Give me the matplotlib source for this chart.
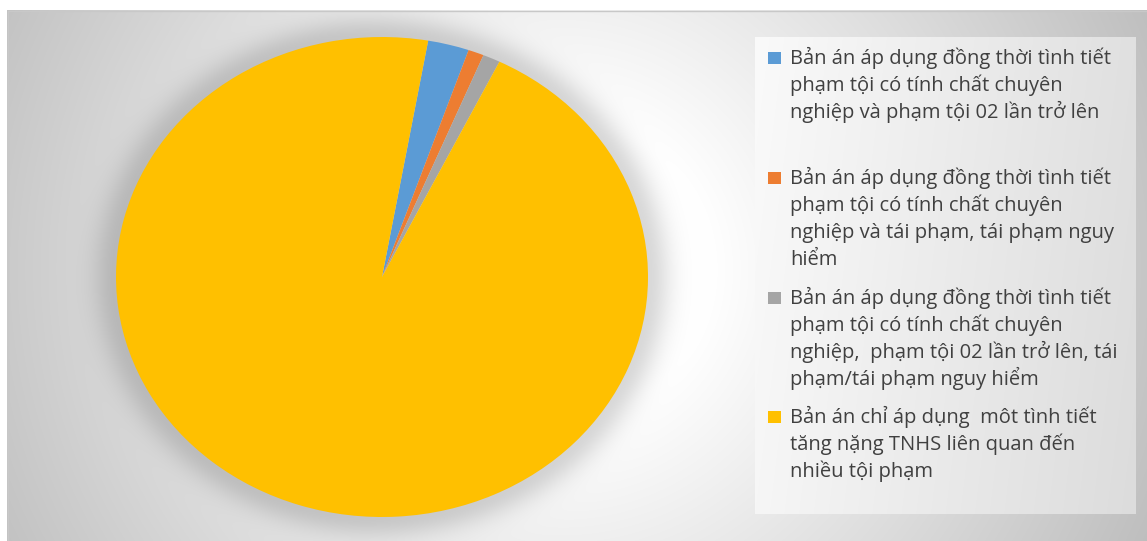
import numpy as np
import matplotlib
matplotlib.use("Agg")
import matplotlib.pyplot as plt
from matplotlib.patches import Rectangle

labels = [
    "Bản án áp dụng đồng thời tình tiết\nphạm tội có tính chất chuyên\nnghiệp và phạm tội 02 lần trở lên",
    "Bản án áp dụng đồng thời tình tiết\nphạm tội có tính chất chuyên\nnghiệp và tái phạm, tái phạm nguy\nhiểm",
    "Bản án áp dụng đồng thời tình tiết\nphạm tội có tính chất chuyên\nnghiệp,  phạm tội 02 lần trở lên, tái\nphạm/tái phạm nguy hiểm",
    "Bản án chỉ áp dụng  môt tình tiết\ntăng nặng TNHS liên quan đến\nnhiều tội phạm",
]
values = [2.5, 0.95, 1.05, 95.5]
colors = ["#5B9BD5", "#ED7D31", "#A5A5A5", "#FFC000"]

plt.rcParams["font.family"] = ["Open Sans", "DejaVu Sans"]

W, H = 1147, 541
fig = plt.figure(figsize=(W / 100, H / 100), dpi=100)
fig.patch.set_facecolor("white")

# background axes in pixel units
bg = fig.add_axes([0, 0, 1, 1])
bg.set_xlim(0, W)
bg.set_ylim(H, 0)
bg.axis("off")

# chart area: radial grey gradient, pie shadow, legend box
yy, xx = np.mgrid[10:H, 7:W] + 0.5
r = np.hypot(xx - 560, yy - 270)
val = np.clip(255 - np.clip(r - 150, 0, None) * 0.13, 190, 255)

cx, cy, rx, ry = 382, 277, 266, 240
d = np.hypot((xx - cx) / rx, (yy - cy) / ry)
dist = np.clip((d - 1) * 253, 0, None)
val = val * (1 - 0.15 * np.exp(-(dist / 22) ** 2))

lx0, lx1, ly0, ly1 = 755, 1136, 37, 514
inside = (xx >= lx0) & (xx < lx1) & (yy >= ly0) & (yy < ly1)
lval = 250 - 26 * (xx - lx0) / (lx1 - lx0) - 4 * (yy - ly0) / (ly1 - ly0)
val = np.where(inside, lval, val)

img = np.dstack([val] * 3) / 255.0
bg.imshow(img, extent=[7, W, H, 10], interpolation="bilinear", aspect="auto")
bg.plot([7.5, 7.5, W], [H, 10.5, 10.5], color="#c8c8c8", lw=1)

# pie (elliptical, as in the source)
ax = fig.add_axes([(cx - rx) / W, 1 - (cy + ry) / H, 2 * rx / W, 2 * ry / H])
ax.pie(values, colors=colors, startangle=80, counterclock=False,
       radius=1, wedgeprops=dict(linewidth=0))
ax.set_aspect("auto")
ax.set_xlim(-1, 1)
ax.set_ylim(-1, 1)
ax.axis("off")

# legend drawn by hand
baselines = [64, 184, 304, 423]
for lab, col, b in zip(labels, colors, baselines):
    bg.add_patch(Rectangle((768, b - 12), 13, 12, color=col, lw=0))
    for k, line in enumerate(lab.split("\n")):
        bg.text(790, b + k * 27, line, fontsize=14.5, color="#404040",
                ha="left", va="baseline")

fig.savefig("out.png", dpi=100)
